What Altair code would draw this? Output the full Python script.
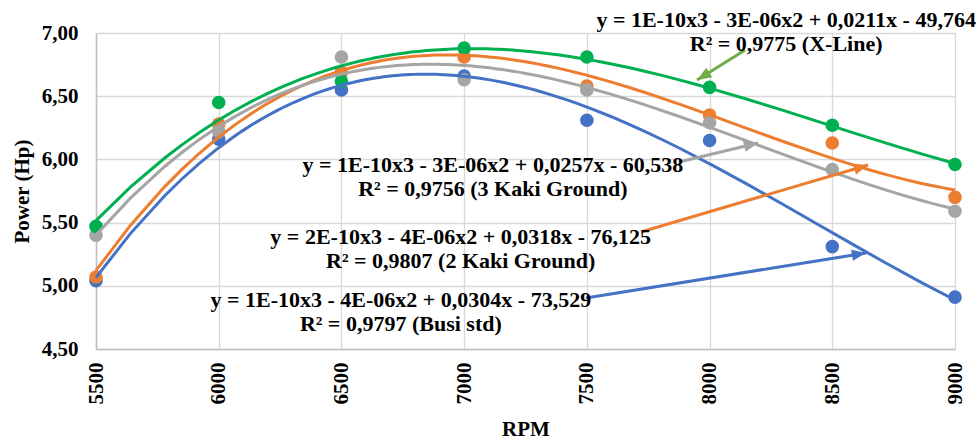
import math
import altair as alt
import pandas as pd

# Engine power (Hp) measured at each RPM for four spark plug types
rpm = [5500, 6000, 6500, 7000, 7500, 8000, 8500, 9000]
series_names = ["Busi std", "2 Kaki Ground", "3 Kaki Ground", "X-Line"]
busi_std = [5.04, 6.16, 6.55, 6.66, 6.31, 6.15, 5.31, 4.91]
kaki2 = [5.07, 6.28, 6.69, 6.81, 6.58, 6.35, 6.13, 5.70]
kaki3 = [5.40, 6.22, 6.81, 6.63, 6.55, 6.29, 5.92, 5.59]
xline = [5.47, 6.45, 6.62, 6.88, 6.81, 6.57, 6.27, 5.96]
colors = ["#4472C4", "#ED7D31", "#A5A5A5", "#00B050"]

# Trendline labels (equation and R² of each cubic fit)
label_lines = [
    ["y = 1E-10x3 - 4E-06x2 + 0,0304x - 73,529", "R² = 0,9797 (Busi std)"],
    ["y = 2E-10x3 - 4E-06x2 + 0,0318x - 76,125", "R² = 0,9807 (2 Kaki Ground)"],
    ["y = 1E-10x3 - 3E-06x2 + 0,0257x - 60,538", "R² = 0,9756 (3 Kaki Ground)"],
    ["y = 1E-10x3 - 3E-06x2 + 0,0211x - 49,764", "R² = 0,9775 (X-Line)"],
]
# anchor of each label: horizontal centre, first line's vertical centre
label_x = [6742, 6986, 7117, 8312]
label_y = [4.888, 5.386, 5.956, 7.103]
# Callout arrows: start (near label) and tip (near trendline), in data units
arrow_x0 = [7496, 7720, 7875, 8145]
arrow_y0 = [4.903, 5.426, 5.980, 6.866]
arrow_x1 = [8638, 8646, 8198, 7949]
arrow_y1 = [5.260, 5.956, 6.130, 6.628]
arrow_colors = ["#4472C4", "#ED7D31", "#A5A5A5", "#70AD47"]

W, H = 859, 316
X_DOM = [5500, 9000]
Y_DOM = [4.5, 7.0]
FONT = "Liberation Serif"

rows = []
for name, vals in zip(series_names, [busi_std, kaki2, kaki3, xline]):
    for r, v in zip(rpm, vals):
        rows.append({"RPM": r, "Power": v, "series": name})
df = pd.DataFrame(rows)


def heading(x0, y0, x1, y1):
    # clockwise angle (deg) of the arrow direction on screen, 0 = pointing up
    dx = (x1 - x0) / (X_DOM[1] - X_DOM[0]) * W
    dy = -(y1 - y0) / (Y_DOM[1] - Y_DOM[0]) * H
    return math.degrees(math.atan2(dx, -dy)) % 360


ann = pd.DataFrame({
    "lx": label_x, "ly": label_y, "text": label_lines,
    "x0": arrow_x0, "y0": arrow_y0, "x1": arrow_x1, "y1": arrow_y1,
    "col": arrow_colors,
    "ang": [heading(a, b, c, d) for a, b, c, d in zip(arrow_x0, arrow_y0, arrow_x1, arrow_y1)],
})

xs = alt.Scale(domain=X_DOM, nice=False, zero=False)
ys = alt.Scale(domain=Y_DOM, nice=False, zero=False)
cs = alt.Scale(domain=series_names, range=colors)

base = alt.Chart(df)

points = base.mark_circle(size=185, opacity=1).encode(
    x=alt.X("RPM:Q", scale=xs, axis=alt.Axis(
        values=rpm, format="d", title="RPM", labelAngle=-90, labelPadding=13,
        titleY=80, titleBaseline="middle")),
    y=alt.Y("Power:Q", scale=ys, axis=alt.Axis(
        values=[4.5, 5.0, 5.5, 6.0, 6.5, 7.0], title="Power (Hp)",
        labelExpr="replace(format(datum.value, '.2f'), '.', ',')",
        labelPadding=18, titleX=-74, titleY=H / 2, titleBaseline="middle",
        titleAlign="center")),
    color=alt.Color("series:N", scale=cs, legend=None),
)

trend = base.transform_regression(
    "RPM", "Power", groupby=["series"], method="poly", order=3
).mark_line(strokeWidth=3).encode(
    x=alt.X("RPM:Q", scale=xs),
    y=alt.Y("Power:Q", scale=ys),
    color=alt.Color("series:N", scale=cs, legend=None),
)

annb = alt.Chart(ann)

arrows = annb.mark_rule(strokeWidth=3).encode(
    x=alt.X("x0:Q", scale=xs), y=alt.Y("y0:Q", scale=ys),
    x2="x1:Q", y2="y1:Q",
    color=alt.Color("col:N", scale=None),
)

heads = annb.mark_point(
    shape="M0,0L-0.45,1.15L0.45,1.15Z", size=620, filled=True, opacity=1
).encode(
    x=alt.X("x1:Q", scale=xs), y=alt.Y("y1:Q", scale=ys),
    angle=alt.Angle("ang:Q", scale=None),
    color=alt.Color("col:N", scale=None),
)

labels = annb.mark_text(
    font=FONT, fontSize=22, fontWeight="bold", color="#000000",
    align="center", baseline="middle", lineHeight=24,
).encode(
    x=alt.X("lx:Q", scale=xs), y=alt.Y("ly:Q", scale=ys), text="text",
)

chart = alt.layer(points, trend, arrows, heads, labels).properties(
    width=W, height=H,
    autosize="none",
    padding={"left": 96, "top": 33, "right": 21, "bottom": 92},
).configure_view(stroke=None).configure_axis(
    labelFont=FONT, titleFont=FONT, labelFontSize=21, titleFontSize=21,
    labelFontWeight="bold", titleFontWeight="bold",
    labelColor="#000000", titleColor="#000000",
    grid=True, gridColor="#D9D9D9", gridWidth=1.3,
    domainColor="#BFBFBF", domainWidth=1.5, ticks=False,
)

chart.save("out.html", embed_options={"renderer": "svg", "actions": False})
